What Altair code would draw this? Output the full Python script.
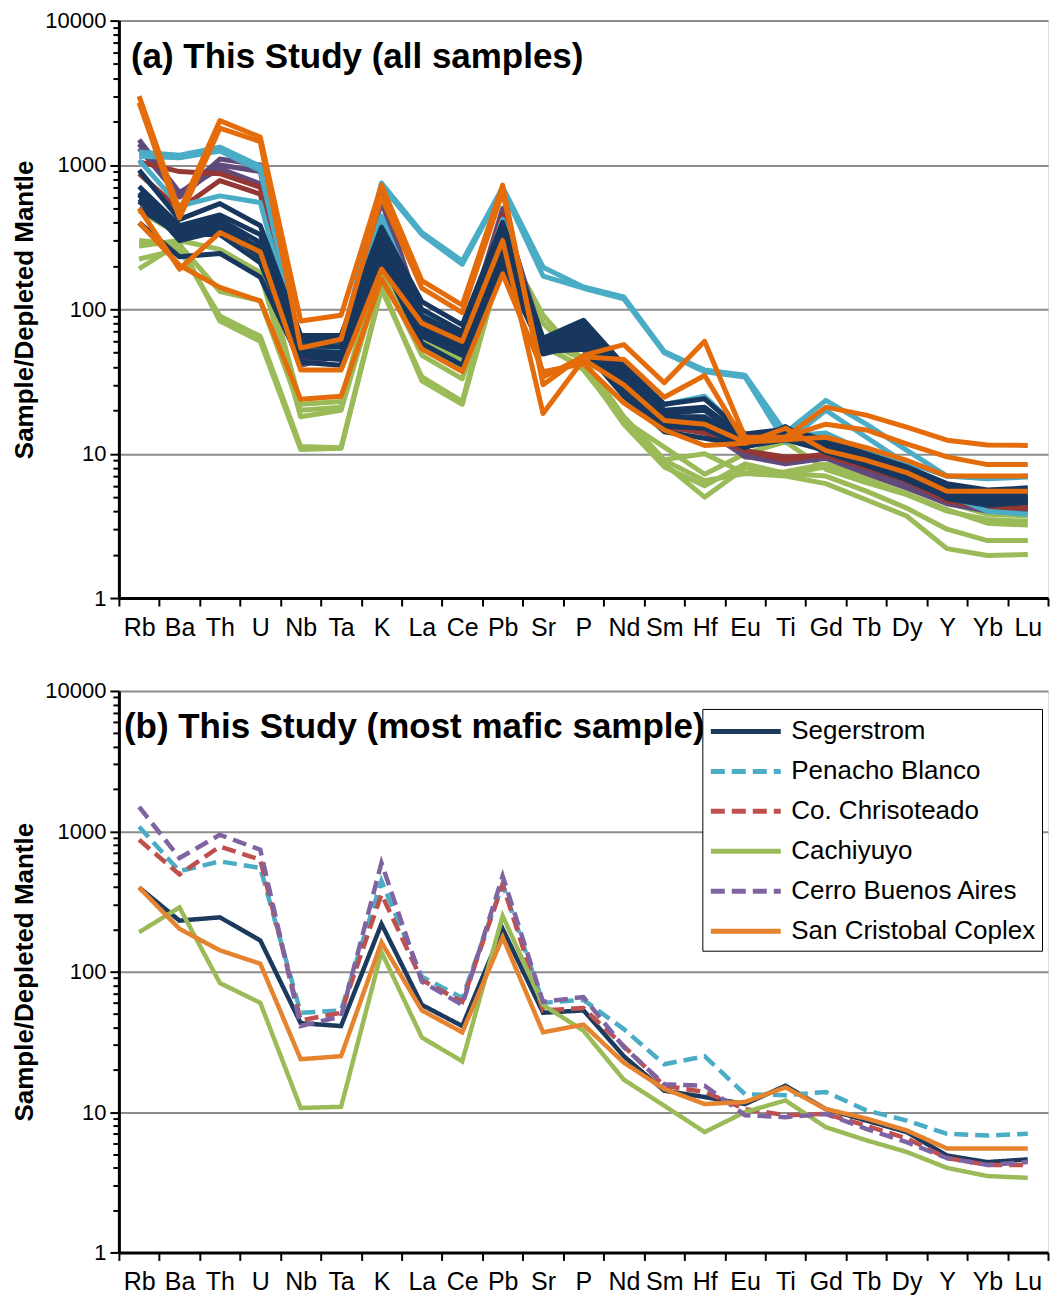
import altair as alt
import pandas as pd

elements = ["Rb", "Ba", "Th", "U", "Nb", "Ta", "K", "La", "Ce", "Pb", "Sr", "P",
            "Nd", "Sm", "Hf", "Eu", "Ti", "Gd", "Tb", "Dy", "Y", "Yb", "Lu"]

groups = ["Segerstrom", "Penacho Blanco", "Co. Chrisoteado", "Cachiyuyo",
          "Cerro Buenos Aires", "San Cristobal Coplex"]

# ---------------- panel (b): most mafic sample of each centre ----------------
seg_b = [398, 231, 244, 167, 43, 41, 219, 58, 41, 202, 51, 53, 25, 14.2, 12.8, 11.4, 15.4, 10.5, 8.7, 7.2, 4.9, 4.4, 4.6]
pen_b = [1080, 520, 611, 549, 51, 53, 442, 92, 65, 420, 60, 63, 39, 21.9, 25, 13.4, 13.2, 13.9, 10.3, 8.7, 7.0, 6.8, 7.0]
chr_b = [870, 493, 780, 628, 45, 51, 356, 87, 61, 419, 53, 55, 29.5, 15.4, 13.9, 10.5, 9.5, 9.7, 8.0, 6.5, 4.7, 4.2, 4.2]
cac_b = [191, 287, 83, 60, 10.7, 10.9, 138, 34, 23, 250, 58, 38, 17, 11.1, 7.2, 10, 12.1, 7.8, 6.3, 5.2, 4.0, 3.5, 3.4]
cba_b = [1496, 645, 944, 740, 41, 48, 595, 85, 58, 480, 61, 66, 29, 15.8, 15.4, 9.5, 9.2, 9.7, 7.6, 6.1, 4.7, 4.2, 4.4]
scc_b = [398, 202, 142, 114, 23.8, 25, 162, 53, 37, 176, 37, 42, 22.5, 14.6, 11.4, 11.8, 15, 10.5, 9.0, 7.4, 5.5, 5.5, 5.5]

# ---------------- panel (a): all samples ----------------
seg_a = [
    [920, 420, 540, 380, 66, 66, 370, 113, 78, 400, 63, 84, 41, 22, 24, 13.7, 14.8, 12.4, 10, 8.1, 6.2, 5.6, 5.8],
    [710, 380, 450, 330, 62, 62, 330, 100, 70, 350, 60, 78, 38, 20, 21, 13, 14.5, 12, 9.7, 7.8, 6.0, 5.3, 5.5],
    [640, 360, 420, 290, 60, 60, 300, 90, 65, 320, 58, 75, 36, 19, 20, 12.5, 14, 11.5, 9.3, 7.5, 5.7, 5.1, 5.2],
    [580, 340, 400, 260, 56, 55, 280, 82, 60, 300, 55, 70, 34, 18, 18, 12, 13.5, 11, 9.0, 7.2, 5.5, 4.9, 5.0],
    [560, 320, 370, 230, 52, 50, 260, 75, 55, 270, 52, 65, 32, 17, 17, 11.6, 13, 10.8, 8.8, 7.0, 5.3, 4.7, 4.9],
    [620, 300, 350, 270, 50, 48, 240, 70, 52, 250, 50, 62, 30, 16, 16, 11.2, 12.5, 10.5, 8.5, 6.8, 5.2, 4.6, 4.7],
    [500, 330, 330, 210, 47, 45, 230, 65, 48, 230, 49, 58, 28, 15.5, 15, 11, 14, 10.2, 8.3, 6.6, 5.0, 4.5, 4.6],
    seg_b,
]
pen_a = [
    [1230, 1170, 1330, 980, 56, 58, 750, 340, 216, 700, 196, 143, 122, 51, 38, 35, 14, 23.4, 16, 10.6, 7.0, 6.7, 6.9],
    [1150, 1120, 1250, 920, 54, 56, 720, 330, 205, 680, 170, 140, 118, 50, 37, 34, 12, 20, 13, 8.5, 5.2, 4.0, 3.8],
    pen_b,
]
chr_a = [
    chr_b,
    [1050, 900, 870, 700, 48, 52, 400, 90, 63, 450, 55, 58, 30, 16, 14.5, 10.5, 9.0, 10, 8.2, 6.6, 4.8, 4.3, 4.3],
]
cac_a = [
    cac_b,
    [480, 330, 330, 240, 22, 23, 250, 60, 45, 300, 91, 44, 18, 9.1, 10, 7.3, 7.5, 8.5, 7, 5.8, 4.6, 3.8, 3.7],
    [300, 280, 133, 115, 20, 21, 220, 56, 40, 240, 80, 42, 17, 8.5, 5.0, 8, 7.2, 8.1, 6.5, 5.3, 4.1, 3.3, 3.2],
    [275, 300, 260, 180, 18, 20, 180, 48, 33, 200, 60, 45, 18, 9, 6.5, 7.3, 7, 6.2, 4.8, 3.7, 2.2, 1.97, 2.0],
    [223, 260, 90, 65, 11.2, 11, 145, 32, 22, 220, 55, 40, 16, 8.1, 6.0, 8.5, 7.3, 7.0, 5.5, 4.2, 3.0, 2.5, 2.5],
]
cba_a = [
    cba_b,
    [1400, 620, 1100, 1000, 45, 50, 620, 88, 60, 500, 58, 62, 28, 15.5, 15, 9.8, 8.8, 9.5, 7.5, 6.0, 4.6, 4.1, 4.2],
    [1300, 600, 1000, 900, 44, 49, 560, 84, 57, 460, 57, 60, 27, 15, 14.5, 9.6, 8.5, 9.3, 7.3, 5.8, 4.5, 4.0, 4.1],
]
scc_a = [
    scc_b,
    [3000, 480, 2030, 1560, 83, 91, 725, 158, 107, 725, 30, 48, 57, 31, 60, 13, 13, 21, 18.5, 15.3, 12.4, 11.5, 11.4],
    [2700, 430, 1800, 1450, 54, 62, 600, 140, 95, 650, 34, 47, 45, 24.6, 34.8, 12, 13, 16, 14.6, 11.7, 9.5, 8.4, 8.4],
    [500, 190, 340, 250, 38, 38, 190, 80, 60, 300, 19, 45, 30, 17, 16, 12, 12.5, 13, 11, 9.0, 7.0, 7.0, 7.0],
]

colors_a = ["#17375E", "#4BACC6", "#953735", "#9BBB59", "#604A7B", "#E46C0A"]
colors_b = ["#1B3A5E", "#4BACC6", "#C0504D", "#9BBB59", "#8064A2", "#E5832F"]
dashes_b = [[1, 0], [14, 7], [14, 7], [1, 0], [14, 7], [1, 0]]

title_a = "(a) This Study (all samples)"
title_b = "(b) This Study (most mafic sample)"
y_title = "Sample/Depleted Mantle"

# ---------------- tables ----------------
def to_long(series_list):
    recs = []
    for grp, sid, vals in series_list:
        for i, (e, v) in enumerate(zip(elements, vals)):
            recs.append({"group": grp, "sample": sid, "element": e, "value": v, "idx": i})
    return pd.DataFrame(recs)

draw_order_a = [(3, cac_a), (4, cba_a), (2, chr_a), (1, pen_a), (0, seg_a), (5, scc_a)]
rows_a = []
for gi, lst in draw_order_a:
    for k, vals in enumerate(lst):
        rows_a.append((groups[gi], f"{groups[gi]} {k + 1}", vals))
df_a = to_long(rows_a)

rows_b = [(g, g, v) for g, v in zip(groups, [seg_b, pen_b, chr_b, cac_b, cba_b, scc_b])]
df_b = to_long(rows_b)

# ---------------- axes ----------------
major_test = ("datum.value == 1 || datum.value == 10 || datum.value == 100 || "
              "datum.value == 1000 || datum.value == 10000")
y_ticks = [m * d for d in [1, 10, 100, 1000] for m in range(1, 10)] + [10000]

FONT = "Liberation Sans"
W = 930


def x_enc():
    return alt.X(
        "element:N",
        sort=elements,
        bandPosition=0.5,
        scale=alt.Scale(type="band", domain=elements, paddingInner=0, paddingOuter=0),
        axis=alt.Axis(
            title=None, tickBand="extent", labelAngle=0, labelFontSize=25, labelFont=FONT,
            labelColor="black", tickSize=8, tickWidth=2, tickColor="black",
            domainWidth=3, domainColor="black", labelPadding=9, grid=False,
            labelOverlap=False,
        ),
    )


def y_enc():
    return alt.Y(
        "value:Q",
        scale=alt.Scale(type="log", domain=[1, 10000]),
        axis=alt.Axis(
            title=y_title, titleFont=FONT, titleFontSize=26, titleFontWeight="bold",
            titleColor="black", titlePadding=7,
            values=y_ticks,
            labelExpr=f"({major_test}) ? format(datum.value, 'd') : ''",
            labelFont=FONT, labelFontSize=22, labelColor="black", labelPadding=4,
            tickColor="black", tickWidth=2,
            tickSize={"condition": {"test": major_test, "value": 9}, "value": 6},
            grid=True, gridColor="#8C8C8C", gridWidth=2,
            gridOpacity={"condition": {"test": major_test, "value": 1}, "value": 0},
            domainWidth=3, domainColor="black",
        ),
    )


def panel_title(text, xpos):
    return alt.Chart(pd.DataFrame({"t": [text]})).mark_text(
        align="left", baseline="middle", fontSize=35, fontWeight="bold", font=FONT, color="black"
    ).encode(x=alt.value(xpos), y=alt.value(36), text="t:N")


lines_a = alt.Chart(df_a).mark_line(strokeWidth=5, strokeJoin="round").encode(
    x=x_enc(),
    y=y_enc(),
    color=alt.Color("group:N", scale=alt.Scale(domain=groups, range=colors_a), legend=None),
    detail="sample:N",
    order=alt.Order("idx:Q"),
)

panel_a = alt.layer(lines_a, panel_title(title_a, 12)).properties(width=W, height=578)

legend_b = alt.Legend(
    title=None, orient="none", legendX=584, legendY=18,
    symbolType="M-1,0H4", symbolSize=784, symbolStrokeWidth=5,
    labelFont=FONT, labelFontSize=26, labelColor="black", labelOffset=50, labelLimit=400,
    strokeColor="black", fillColor="white", padding=6, rowPadding=10,
)

lines_b = alt.Chart(df_b).mark_line(strokeWidth=4.5).encode(
    x=x_enc(),
    y=y_enc(),
    color=alt.Color("group:N", scale=alt.Scale(domain=groups, range=colors_b), legend=legend_b),
    strokeDash=alt.StrokeDash("group:N", scale=alt.Scale(domain=groups, range=dashes_b), legend=legend_b),
    order=alt.Order("idx:Q"),
)

panel_b = alt.layer(lines_b, panel_title(title_b, 5)).properties(width=W, height=562)

chart = (
    alt.vconcat(panel_a, panel_b, spacing=38)
    .resolve_scale(color="independent", strokeDash="independent")
    .properties(padding={"left": 3, "top": 0, "right": 0, "bottom": 0})
    .configure_view(stroke="black", strokeWidth=2)
    .configure_legend(strokeWidth=2)
    .configure(background="white")
)

chart.save("out.html", embed_options={"renderer": "svg", "actions": False})
